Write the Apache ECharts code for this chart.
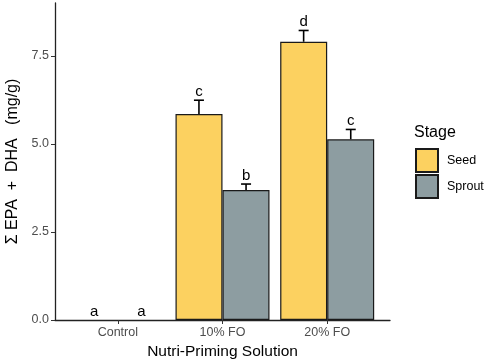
<!DOCTYPE html>
<html>
<head>
<meta charset="utf-8">
<script src="https://cdn.jsdelivr.net/npm/echarts@6/dist/echarts.min.js"></script>
<style>
  html, body { margin: 0; padding: 0; background: #fff; }
  #container { width: 485px; height: 360px; }
</style>
</head>
<body>
<div id="container"></div>
<script>
var categories = ['Control', '10% FO', '20% FO'];
var stages = ['Seed', 'Sprout'];
var seedValues = [0, 5.85, 7.90];
var seedErrors = [0, 0.39, 0.32];
var seedLetters = ['a', 'c', 'd'];
var sproutValues = [0, 3.69, 5.13];
var sproutErrors = [0, 0.17, 0.28];
var sproutLetters = ['a', 'b', 'c'];
var yTicks = [0, 2.5, 5, 7.5];
var colors = ['#fcd160', '#8d9da1'];

var FONT = '"Liberation Sans", Arial, sans-serif';
var dom = document.getElementById('container');
var myChart = echarts.init(dom);

// bar data on a value axis: [category index, value]; zero bars get no outline
function barData(vals) {
    return vals.map(function (v, i) {
        var d = { value: [i, v] };
        if (v === 0) d.itemStyle = { borderWidth: 0, opacity: 0 };
        return d;
    });
}

// error bar + letter, shifted half a bar left / right of the category
function errorSeries(vals, errs, letters, side) {
    return {
        type: 'custom',
        z: 5,
        data: vals.map(function (v, i) { return [i, v, errs[i]]; }),
        renderItem: function (params, api) {
            var x = api.value(0), v = api.value(1), e = api.value(2);
            var base = api.coord([x, v]);
            var step = api.size([1, 0])[0];
            var cx = base[0] + side * step * 0.225;
            var top = api.coord([x, v + e])[1];
            var children = [];
            if (e > 0) {
                children.push({
                    type: 'line',
                    shape: { x1: cx, y1: base[1], x2: cx, y2: top },
                    style: { stroke: '#000', lineWidth: 1.6 }
                });
                children.push({
                    type: 'line',
                    shape: { x1: cx - 5, y1: top, x2: cx + 5, y2: top },
                    style: { stroke: '#000', lineWidth: 1.6 }
                });
            }
            children.push({
                type: 'text',
                style: {
                    text: letters[params.dataIndex],
                    x: cx, y: top - 1,
                    align: 'center', verticalAlign: 'bottom',
                    font: '15px ' + FONT,
                    fill: '#000'
                }
            });
            return { type: 'group', children: children };
        }
    };
}

var option = {
    animation: false,
    grid: { left: 55, right: 95, top: 3, bottom: 40, outerBoundsMode: 'none', containLabel: false },
    legend: {
        orient: 'vertical',
        left: 415, top: 148,
        padding: 0,
        itemWidth: 22, itemHeight: 23, itemGap: 1,
        icon: 'rect',
        data: stages,
        textStyle: { fontSize: 12.5, color: '#000', fontFamily: FONT, padding: [0, 0, 0, 4] }
    },
    graphic: [{
        type: 'text',
        left: 414, top: 125,
        style: { text: 'Stage', font: '16px ' + FONT, fill: '#000' }
    }],
    xAxis: {
        type: 'value',
        min: -0.6, max: 2.6,
        name: 'Nutri-Priming Solution',
        nameLocation: 'middle',
        nameGap: 22,
        nameTextStyle: { fontSize: 15.5, color: '#000', fontFamily: FONT },
        splitLine: { show: false },
        axisLine: { show: true, onZero: false, lineStyle: { color: '#222', width: 1.3 } },
        axisTick: { show: true, length: 4, customValues: [0, 1, 2], lineStyle: { color: '#333' } },
        axisLabel: {
            customValues: [0, 1, 2],
            color: '#4d4d4d', fontSize: 12.5, margin: 6,
            fontFamily: FONT,
            formatter: function (v) { return categories[Math.round(v)]; }
        }
    },
    yAxis: {
        type: 'value',
        min: 0, max: 9,
        name: 'Σ EPA  +  DHA   (mg/g)',
        nameLocation: 'middle',
        nameGap: 28,
        nameTextStyle: { fontSize: 16, color: '#000', fontFamily: FONT },
        splitLine: { show: false },
        axisLine: { show: true, onZero: false, lineStyle: { color: '#222', width: 1.3 } },
        axisTick: { show: true, length: 4, customValues: yTicks, lineStyle: { color: '#333' } },
        axisLabel: {
            customValues: yTicks,
            color: '#4d4d4d', fontSize: 12.5, margin: 6,
            fontFamily: FONT,
            formatter: function (v) { return v.toFixed(1); }
        }
    },
    series: [
        {
            name: stages[0], type: 'bar', barWidth: 47, barGap: '0%',
            data: barData(seedValues),
            itemStyle: { color: colors[0], borderColor: '#1a1a1a', borderWidth: 1.2 }
        },
        {
            name: stages[1], type: 'bar', barWidth: 47, barGap: '0%',
            data: barData(sproutValues),
            itemStyle: { color: colors[1], borderColor: '#1a1a1a', borderWidth: 1.2 }
        },
        errorSeries(seedValues, seedErrors, seedLetters, -1),
        errorSeries(sproutValues, sproutErrors, sproutLetters, 1)
    ]
};

myChart.setOption(option);
</script>
</body>
</html>
